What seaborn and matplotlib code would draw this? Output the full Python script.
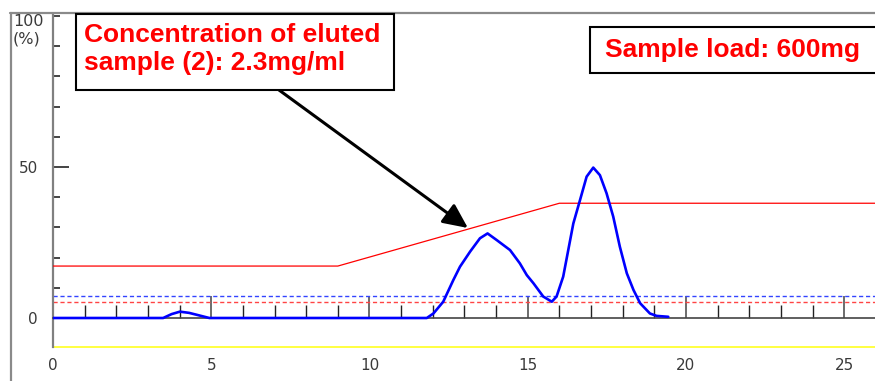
import numpy as np
import pandas as pd
import seaborn as sns
import matplotlib
matplotlib.use("Agg")
import matplotlib.pyplot as plt
from matplotlib.lines import Line2D
from matplotlib.patches import Rectangle

# ---------------- data ----------------
elution_time = [0.0, 3.48, 3.75, 4.01, 4.30, 4.64, 4.94, 11.81, 12.02, 12.33, 12.65, 12.86,
                13.18, 13.49, 13.73, 14.02, 14.44, 14.75, 14.97, 15.18, 15.49, 15.76,
                15.91, 16.12, 16.28, 16.44, 16.65, 16.86, 17.07, 17.28, 17.49, 17.70,
                17.91, 18.13, 18.34, 18.55, 18.86, 19.07, 19.44]
absorbance = [0.0, 0.0, 1.3, 2.1, 1.7, 0.8, 0.0, 0.0, 1.5, 5.4, 12.6, 17.0,
              22.0, 26.4, 28.0, 25.8, 22.5, 18.1, 14.2, 11.5, 7.1, 5.4,
              7.1, 13.7, 22.5, 31.3, 39.0, 46.8, 49.8, 47.3, 41.3, 33.6,
              23.6, 14.8, 9.3, 4.9, 1.5, 0.7, 0.4]
gradient_time = [0.0, 9.0, 16.0, 26.0]
gradient_pct = [17.2, 17.2, 38.0, 38.0]
blue_threshold = 7.3
red_threshold = 5.3
yellow_level = -9.6
x_major = [0, 5, 10, 15, 20, 25]
x_minor = [i for i in range(0, 26) if i % 5 != 0]
y_major = [0, 50]
y_minor = [10, 20, 30, 40, 60, 70, 80, 90, 100]
note1 = "Concentration of eluted\nsample (2): 2.3mg/ml"
note2 = "Sample load: 600mg"
arrow_target = (13.11, 29.8)

# ---------------- figure ----------------
sns.set_style("white")
plt.rcParams["font.family"] = ["DejaVu Sans"]

W, H = 875, 381
fig = plt.figure(figsize=(W / 100, H / 100), dpi=100)

def fx(px):
    return px / W

def fy(py):
    return 1 - py / H

ax_left, ax_top = 53, 14
ax = fig.add_axes([fx(ax_left), 0, fx(W - ax_left), (H - ax_top) / H])
ppu_x = 31.65
ppu_y = 3.02
ax.set_xlim(0, (W - ax_left) / ppu_x)
ax.set_ylim((318 - H) / ppu_y, (318 - ax_top) / ppu_y)
ax.set_facecolor("white")

# reference lines
ax.axhline(yellow_level, color="#ffff33", lw=1.3, zorder=1)
ax.axhline(blue_threshold, color="#3344ff", lw=1.0, ls=(0, (3, 2)), zorder=2)
ax.axhline(red_threshold, color="#ff4444", lw=1.0, ls=(0, (3, 2)), zorder=2)

# gradient line
grad = pd.DataFrame({"t": gradient_time, "p": gradient_pct})
sns.lineplot(data=grad, x="t", y="p", ax=ax, color="#ff0000", lw=0.9,
             estimator=None, sort=False, zorder=3)

# chromatogram
chrom = pd.DataFrame({"t": elution_time, "a": absorbance})
sns.lineplot(data=chrom, x="t", y="a", ax=ax, color="#0000ff", lw=1.9,
             estimator=None, sort=False, zorder=5)

ax.set_xlabel("")
ax.set_ylabel("")

# spines
for s in ["top", "right"]:
    ax.spines[s].set_visible(False)
ax.spines["bottom"].set_position(("data", 0))
ax.spines["bottom"].set_color("#444444")
ax.spines["bottom"].set_linewidth(1.2)
ax.spines["bottom"].set_zorder(4)
ax.spines["left"].set_color("#808080")
ax.spines["left"].set_linewidth(1.6)
ax.spines["left"].set_bounds(yellow_level, ax.get_ylim()[1])

# x ticks
ax.set_xticks(x_major)
ax.set_xticks(x_minor, minor=True)
ax.set_xticklabels([str(v) for v in x_major])
ax.tick_params(axis="both", which="both", bottom=True, left=True)
ax.tick_params(axis="x", which="major", direction="in", length=15.8, width=1.1,
               color="#444444", pad=29, labelsize=11, labelcolor="#3a3a3a")
ax.tick_params(axis="x", which="minor", direction="in", length=9.4, width=1.0,
               color="#222222")

# y ticks
ax.set_yticks(y_major)
ax.set_yticks(y_minor, minor=True)
ax.set_yticklabels([str(v) for v in y_major])
ax.tick_params(axis="y", which="major", direction="in", length=11.5, width=1.1,
               color="#111111", pad=11, labelsize=11, labelcolor="#3a3a3a")
ax.tick_params(axis="y", which="minor", direction="in", length=5, width=1.1,
               color="#111111")

# "100 (%)" label
fig.text(fx(13), fy(14), "100\n(%)", ha="left", va="top", fontsize=11.5,
         color="#3a3a3a", linespacing=1.2)

# outer frame lines
fig.add_artist(Line2D([fx(10.5), fx(10.5)], [fy(13), fy(H)], color="#8a8a8a", lw=1.6))
fig.add_artist(Line2D([fx(10), fx(W)], [fy(13), fy(13)], color="#8a8a8a", lw=1.6))

# note boxes
fig.add_artist(Rectangle((fx(76), fy(90)), fx(394 - 76), (90 - 14) / H,
                         transform=fig.transFigure, facecolor="white",
                         edgecolor="black", lw=1.5, zorder=10))
fig.text(fx(84), fy(49), note1, ha="left", va="center", fontsize=19,
         fontweight="bold", color="#ff0000", family="Liberation Sans",
         linespacing=1.2, zorder=11)

fig.add_artist(Rectangle((fx(590), fy(73)), fx(300), (73 - 27) / H,
                         transform=fig.transFigure, facecolor="white",
                         edgecolor="black", lw=1.5, zorder=10))
fig.text(fx(605), fy(50), note2, ha="left", va="center", fontsize=19,
         fontweight="bold", color="#ff0000", family="Liberation Sans", zorder=11)

# arrow
ax.annotate("", xy=arrow_target, xycoords="data",
            xytext=(fx(279), fy(90)), textcoords="figure fraction",
            arrowprops=dict(arrowstyle="-|>,head_length=0.75,head_width=0.35",
                            mutation_scale=20, color="black", lw=2.2,
                            shrinkA=0, shrinkB=0),
            zorder=12)

fig.savefig("out.png", dpi=100)
